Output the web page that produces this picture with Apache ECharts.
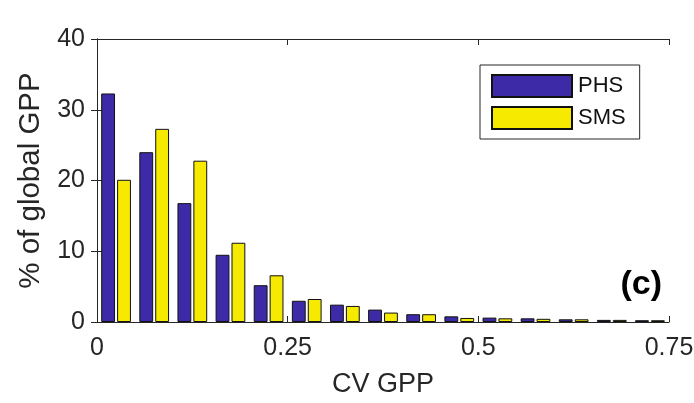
<!DOCTYPE html>
<html>
<head>
<meta charset="utf-8">
<script src="https://cdn.jsdelivr.net/npm/echarts@6/dist/echarts.min.js"></script>
<style>
  html, body { margin: 0; padding: 0; background: #fff; }
  #chart { width: 694px; height: 403px; }
</style>
</head>
<body>
<div id="chart"></div>
<script>
// bin centres of CV GPP (width 0.05)
const bins = ['0.025', '0.075', '0.125', '0.175', '0.225', '0.275', '0.325', '0.375',
  '0.425', '0.475', '0.525', '0.575', '0.625', '0.675', '0.725']
const phs = [32.3, 24.0, 16.8, 9.5, 5.2, 3.0, 2.45, 1.75, 1.1, 0.8, 0.62, 0.52, 0.38, 0.3, 0.25]
const sms = [20.1, 27.3, 22.8, 11.2, 6.6, 3.25, 2.27, 1.33, 1.1, 0.57, 0.52, 0.45, 0.38, 0.3, 0.25]
const xTicks = [0, 0.25, 0.5, 0.75]
const yTicks = [0, 10, 20, 30, 40]

const font = '"Liberation Sans", Arial, Helvetica, sans-serif'
const axisColor = '#262626'

let myCharts = echarts.init(document.getElementById('chart'))

let inTick = { show: true, inside: true, length: 6, lineStyle: { color: axisColor, width: 1 } }

let option = {
    animation: false,
    backgroundColor: '#fff',
    textStyle: { fontFamily: font },
    grid: {
        left: 97,
        right: 25,
        top: 39,
        bottom: 81,
        containLabel: false,
        outerBoundsMode: 'none'
    },
    legend: {
        orient: 'vertical',
        left: 480,
        top: 65,
        data: ['PHS', 'SMS'],
        icon: 'rect',
        itemWidth: 80,
        itemHeight: 22,
        itemGap: 8,
        padding: [9, 14, 9, 11],
        borderColor: axisColor,
        borderWidth: 1,
        backgroundColor: '#fff',
        textStyle: { fontSize: 22, color: '#111', fontFamily: font, padding: [0, 0, 0, 1] }
    },
    xAxis: [
        {
            type: 'category',
            data: bins,
            show: false
        },
        {
            type: 'value',
            position: 'bottom',
            min: xTicks[0],
            max: xTicks[xTicks.length - 1],
            interval: 0.25,
            name: 'CV GPP',
            nameLocation: 'middle',
            nameGap: 49,
            nameTextStyle: { fontSize: 27, color: axisColor, fontFamily: font },
            axisLine: { show: true, lineStyle: { color: axisColor, width: 1 } },
            axisTick: inTick,
            splitLine: { show: false },
            axisLabel: {
                fontSize: 25, color: axisColor, margin: 14, fontFamily: font,
                formatter: v => String(v)
            }
        },
        {
            type: 'value',
            position: 'top',
            min: xTicks[0],
            max: xTicks[xTicks.length - 1],
            interval: 0.25,
            axisLine: { show: true, lineStyle: { color: axisColor, width: 1 } },
            axisTick: inTick,
            splitLine: { show: false },
            axisLabel: { show: false }
        }
    ],
    yAxis: [
        {
            type: 'value',
            position: 'left',
            min: yTicks[0],
            max: yTicks[yTicks.length - 1],
            interval: 10,
            name: '% of global GPP',
            nameLocation: 'middle',
            nameGap: 50,
            nameTextStyle: { fontSize: 29.5, color: axisColor, fontFamily: font },
            axisLine: { show: true, lineStyle: { color: axisColor, width: 1 } },
            axisTick: inTick,
            splitLine: { show: false },
            axisLabel: { fontSize: 25, color: axisColor, margin: 12, fontFamily: font }
        },
        {
            type: 'value',
            position: 'right',
            min: yTicks[0],
            max: yTicks[yTicks.length - 1],
            interval: 10,
            axisLine: { show: true, lineStyle: { color: axisColor, width: 1 } },
            axisTick: inTick,
            splitLine: { show: false },
            axisLabel: { show: false }
        }
    ],
    series: [
        {
            name: 'PHS',
            type: 'bar',
            xAxisIndex: 0,
            yAxisIndex: 0,
            data: phs,
            barGap: '15%',
            barCategoryGap: '22%',
            itemStyle: { color: '#3D2AA6', borderColor: '#111', borderWidth: 1 }
        },
        {
            name: 'SMS',
            type: 'bar',
            xAxisIndex: 0,
            yAxisIndex: 0,
            data: sms,
            barGap: '15%',
            barCategoryGap: '22%',
            itemStyle: { color: '#F5EA00', borderColor: '#111', borderWidth: 1 }
        }
    ],
    graphic: [
        {
            type: 'text',
            right: 32,
            top: 268,
            style: {
                text: '(c)',
                fontSize: 34,
                fontWeight: 'bold',
                fontFamily: font,
                fill: '#000'
            }
        }
    ]
}

myCharts.setOption(option)
</script>
</body>
</html>
